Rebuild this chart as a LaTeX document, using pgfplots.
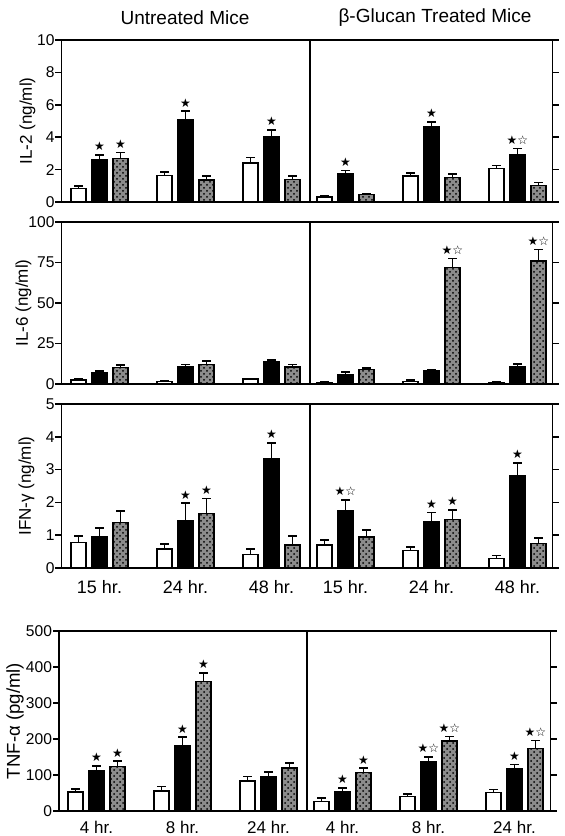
\documentclass[border=0pt]{standalone}
\usepackage{pgfplots}
\pgfplotsset{compat=1.18}
\usepackage{pgfplotstable}
\usepackage{fontspec}
\setmainfont{Liberation Sans}
\newfontfamily\symfont{DejaVu Sans}
\usetikzlibrary{patterns}

\pgfplotstableread{
x w we b be h he
99.5 0.85 0.15 2.6 0.3 2.7 0.35
185.5 1.65 0.2 5.1 0.5 1.35 0.25
271.5 2.4 0.35 4.0 0.45 1.4 0.2
345.5 0.3 0.1 1.75 0.2 0.45 0.08
431.5 1.6 0.2 4.65 0.3 1.5 0.25
517.5 2.05 0.2 2.95 0.35 1.0 0.2
}\ILtwo
\pgfplotstableread{
x y s
99.5 2.9 ★
120.5 3.05 ★
185.5 5.6 ★
271.5 4.45 ★
345.5 1.95 ★
431.5 4.95 ★
517.5 3.3 ★☆
}\ILtwoS
\pgfplotstableread{
x w we b be h he
99.5 2.5 0.5 7 1 10 1.5
185.5 1.5 0.5 10.5 1.5 12 2
271.5 3 0.3 13.5 1.5 10.5 1.5
345.5 1 0.5 6 1.5 9 0.8
431.5 1.5 0.8 8 1 72 5.5
517.5 1 0.5 10.5 2 76 7
}\ILsix
\pgfplotstableread{
x y s
452.5 77.5 ★☆
538.5 83 ★☆
}\ILsixS
\pgfplotstableread{
x w we b be h he
99.5 0.77 0.2 0.95 0.26 1.38 0.36
185.5 0.58 0.14 1.43 0.55 1.67 0.45
271.5 0.41 0.18 3.33 0.48 0.70 0.27
345.5 0.70 0.16 1.76 0.32 0.94 0.22
431.5 0.53 0.11 1.42 0.27 1.47 0.31
517.5 0.29 0.09 2.80 0.40 0.75 0.16
}\IFN
\pgfplotstableread{
x y s
185.5 1.98 ★
206.5 2.12 ★
271.5 3.81 ★
345.5 2.08 ★☆
431.5 1.69 ★
452.5 1.78 ★
517.5 3.2 ★
}\IFNS
\pgfplotstableread{
x w we b be h he
96.5 53 8 112 14 123 15
182.5 56 12 182 23 359 25
268.5 83 13 96 12 120 13
342.5 27 9 55 10 107 12
428.5 40 8 138 13 195 12
514.5 51 9 117 12 173 23
}\TNF
\pgfplotstableread{
x y s
96.5 126 ★
117.5 138 ★
182.5 205 ★
203.5 384 ★
342.5 65 ★
363.5 119 ★
428.5 151 ★☆
449.5 207 ★☆
514.5 129 ★
535.5 196 ★☆
}\TNFS

\pgfplotsset{
  panel/.style={
    scale only axis, width=245.5pt,
    ybar, bar shift=0pt, bar width=15,
    xmin=61.5, xmax=552.5, ymin=0,
    axis line style={line width=0.8pt},
    tick align=outside, ytick pos=both, yticklabel pos=left,
    major tick length=3pt,
    every tick/.style={black, line width=0.8pt},
    xtick=\empty,
    /pgf/number format/assume math mode=true,
    tick label style={font=\fontsize{7.8}{9}\selectfont},
    yticklabel style={inner sep=0.3pt},
    xticklabel style={inner sep=2pt, font=\fontsize{8.5}{10}\selectfont},
    every axis y label/.style={at={(rel axis cs:0,0.5)}, rotate=90, anchor=center,
      font=\fontsize{8.5}{10}\selectfont},
    clip=false,
  },
  errs/.style={error bars/.cd, y dir=plus, y explicit,
    error bar style={line width=0.9pt, black},
    error mark=-,
    error mark options={black, rotate=90, mark size=2.2pt, line width=0.9pt}},
  wbar/.style={bar shift=0pt, draw=black, fill=white, line width=0.7pt, errs},
  bbar/.style={bar shift=0pt, draw=black, fill=black, line width=0.7pt, errs},
  hbar/.style={bar shift=0pt, draw=black, fill=black!45, line width=0.7pt,
    postaction={pattern=crosshatch dots, pattern color=black}, errs},
  stars/.style={bar shift=0pt, draw=none, fill=none, nodes near coords,
    point meta=explicit symbolic,
    every node near coord/.style={font=\symfont\fontsize{6}{7}\selectfont, inner sep=1.8pt, anchor=south}},
}

\newcommand{\bars}[2]{%
  \addplot[wbar] table[x expr=\thisrow{x}-21, y=w, y error=we] {#1};
  \addplot[bbar] table[x=x, y=b, y error=be] {#1};
  \addplot[hbar] table[x expr=\thisrow{x}+21, y=h, y error=he] {#1};
  \addplot[stars] table[x=x, y=y, meta=s] {#2};
}

\begin{document}
\begin{tikzpicture}
\useasboundingbox (0,0) rectangle (282pt,418pt);

\node[font=\fontsize{9.5}{11}\selectfont] at (92.5pt,409pt) {Untreated Mice};
\node[font=\fontsize{9.5}{11}\selectfont] at (217.5pt,409pt) {β-Glucan Treated Mice};

\begin{axis}[panel, at={(30.75pt,317pt)}, anchor=south west, height=81pt,
  ymax=10, ytick={0,2,4,6,8,10}, ylabel={IL-2 (ng/ml)},
  ylabel style={yshift=17pt}]
  \bars{\ILtwo}{\ILtwoS}
  \draw[line width=0.8pt] (axis cs:310,0) -- (axis cs:310,10);
\end{axis}

\begin{axis}[panel, at={(30.75pt,226pt)}, anchor=south west, height=81pt,
  ymax=100, ytick={0,25,50,75,100}, ylabel={IL-6 (ng/ml)},
  ylabel style={yshift=19pt}]
  \bars{\ILsix}{\ILsixS}
  \draw[line width=0.8pt] (axis cs:310,0) -- (axis cs:310,100);
\end{axis}

\begin{axis}[panel, at={(30.75pt,134pt)}, anchor=south west, height=82pt,
  ymax=5, ytick={0,1,2,3,4,5}, ylabel={IFN-γ (ng/ml)},
  ylabel style={yshift=17.5pt},
  xtick={99.5,185.5,271.5,345.5,431.5,517.5},
  xticklabels={15 hr.,24 hr.,48 hr.,15 hr.,24 hr.,48 hr.},
  xticklabel style={font=\fontsize{9}{10}\selectfont, yshift=-1pt},
  major x tick style={draw=none}]
  \bars{\IFN}{\IFNS}
  \draw[line width=0.8pt] (axis cs:310,0) -- (axis cs:310,5);
\end{axis}

\begin{axis}[panel, at={(29.5pt,12.5pt)}, anchor=south west, height=90pt,
  width=245.75pt, xmin=59, xmax=550.5,
  ymax=500, ytick={0,100,200,300,400,500}, ylabel={TNF-α (pg/ml)},
  ylabel style={yshift=22pt, font=\fontsize{9.3}{10}\selectfont},
  xtick={96.5,182.5,268.5,342.5,428.5,514.5},
  xticklabels={4 hr.,8 hr.,24 hr.,4 hr.,8 hr.,24 hr.},
  major x tick style={draw=none}]
  \bars{\TNF}{\TNFS}
  \draw[line width=0.8pt] (axis cs:307,0) -- (axis cs:307,500);
\end{axis}
\end{tikzpicture}
\end{document}
